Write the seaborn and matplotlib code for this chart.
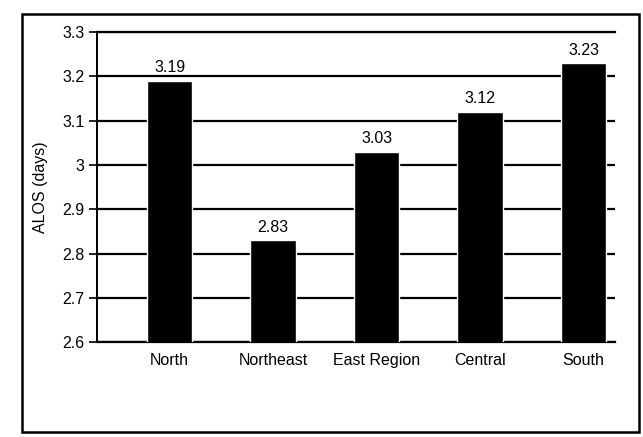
import matplotlib
matplotlib.use("Agg")
import matplotlib.pyplot as plt
import seaborn as sns
import pandas as pd
from matplotlib.patches import Rectangle

regions = ["North", "Northeast", "East Region", "Central", "South"]
alos_days = [3.19, 2.83, 3.03, 3.12, 3.23]
y_ticks = [2.6, 2.7, 2.8, 2.9, 3.0, 3.1, 3.2, 3.3]
y_tick_labels = ["2.6", "2.7", "2.8", "2.9", "3", "3.1", "3.2", "3.3"]

sns.set_theme(style="white", rc={"text.color": "black", "axes.labelcolor": "black",
                                 "xtick.color": "black", "ytick.color": "black"})
plt.rcParams["font.family"] = ["Liberation Sans", "DejaVu Sans"]

df = pd.DataFrame({"region": regions, "alos": alos_days})

fig = plt.figure(figsize=(6.43, 4.37), dpi=100)
ax = fig.add_axes([0.151, 0.217, 0.805, 0.71])

sns.barplot(data=df, x="region", y="alos", color="black", width=0.44,
            saturation=1, ax=ax, zorder=3)

ax.set_ylim(2.6, 3.3)
ax.set_xlim(-0.7, 4.3)
ax.set_yticks(y_ticks)
ax.set_yticklabels(y_tick_labels, fontsize=11.5)
ax.yaxis.grid(True, color="black", linewidth=1.6, zorder=0)
ax.set_axisbelow(True)
ax.tick_params(axis="y", direction="out", length=6, width=1.2, color="black",
               left=True, pad=3, labelcolor="black")
ax.tick_params(axis="x", length=0, labelsize=11.5, pad=8, labelcolor="black")
ax.set_xlabel("")
ax.set_ylabel("ALOS (days)", fontsize=11.5, color="black")
ax.yaxis.set_label_coords(-0.095, 0.5)

ax.spines["right"].set_visible(False)
ax.spines["top"].set_color("black")
ax.spines["top"].set_linewidth(1.6)
ax.spines["left"].set_color("black")
ax.spines["left"].set_linewidth(1.4)
ax.spines["bottom"].set_color("black")
ax.spines["bottom"].set_linewidth(1.6)

for i, v in enumerate(alos_days):
    ax.text(i, v + 0.012, f"{v:.2f}", ha="center", va="bottom", fontsize=11.5,
            color="black")

# frame around the whole figure
fig.patches.append(Rectangle((0.034, 0.012), 0.96, 0.956, transform=fig.transFigure,
                             fill=False, edgecolor="black", linewidth=1.8))

fig.savefig("out.png", dpi=100, facecolor="white")
